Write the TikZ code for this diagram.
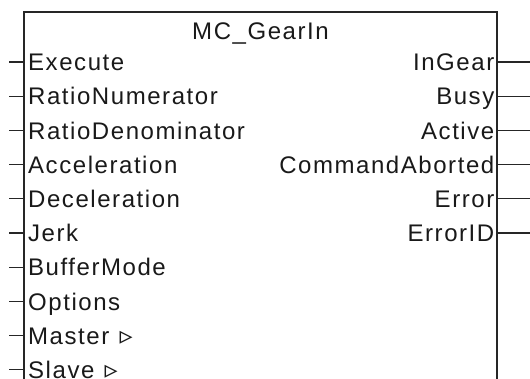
\documentclass[tikz,border=0pt]{standalone}
\usepackage{fontspec}
\setmainfont{Liberation Sans}[LetterSpace=6.5]
\newfontfamily\symfont{DejaVu Sans}
\newcommand{\pintri}{\hspace{2pt}{\symfont\fontsize{26}{26}\selectfont ▹}}
\begin{document}
\begin{tikzpicture}[x=1pt,y=-1pt,
  boxline/.style={line width=1.6pt, draw=black!85},
  pinline/.style={line width=1.3pt, draw=black!85},
  lbl/.style={font=\fontsize{24}{24}\selectfont, inner sep=0pt, text=black!90}]
\useasboundingbox (0,0) rectangle (530,378);
% function block outline (continues below the picture edge)
\coordinate (bl) at (24,380);
\coordinate (tl) at (24,12);
\coordinate (tr) at (497,12);
\coordinate (br) at (497,380);
\draw[boxline] (bl) -- (tl) -- (tr) -- (br);
\node[lbl, anchor=base] (title) at (260.5,39) {MC\_GearIn};
% inputs
\foreach \name/\txt [count=\i from 0] in {ex/Execute, rn/RatioNumerator, rd/RatioDenominator, acc/Acceleration, dec/Deceleration, jk/Jerk, bm/BufferMode, op/Options, ma/{Master \pintri}, sl/{Slave \pintri}} {
  \pgfmathsetmacro{\yy}{62+34.2*\i}
  \coordinate (in-\name) at (24,\yy);
  \coordinate (inend-\name) at (9,\yy);
  \draw[pinline] (inend-\name) -- (in-\name);
  \node[lbl, anchor=base west] (l-\name) at (28,\yy+8.6) {\txt};
}
% outputs
\foreach \name/\txt [count=\i from 0] in {ig/InGear, bu/Busy, ac/Active, ca/CommandAborted, er/Error, eid/ErrorID} {
  \pgfmathsetmacro{\yy}{62+34.2*\i}
  \coordinate (out-\name) at (497,\yy);
  \coordinate (outend-\name) at (531,\yy);
  \draw[pinline] (out-\name) -- (outend-\name);
  \node[lbl, anchor=base east] (r-\name) at (494.5,\yy+8.6) {\txt};
}
\end{tikzpicture}
\end{document}
